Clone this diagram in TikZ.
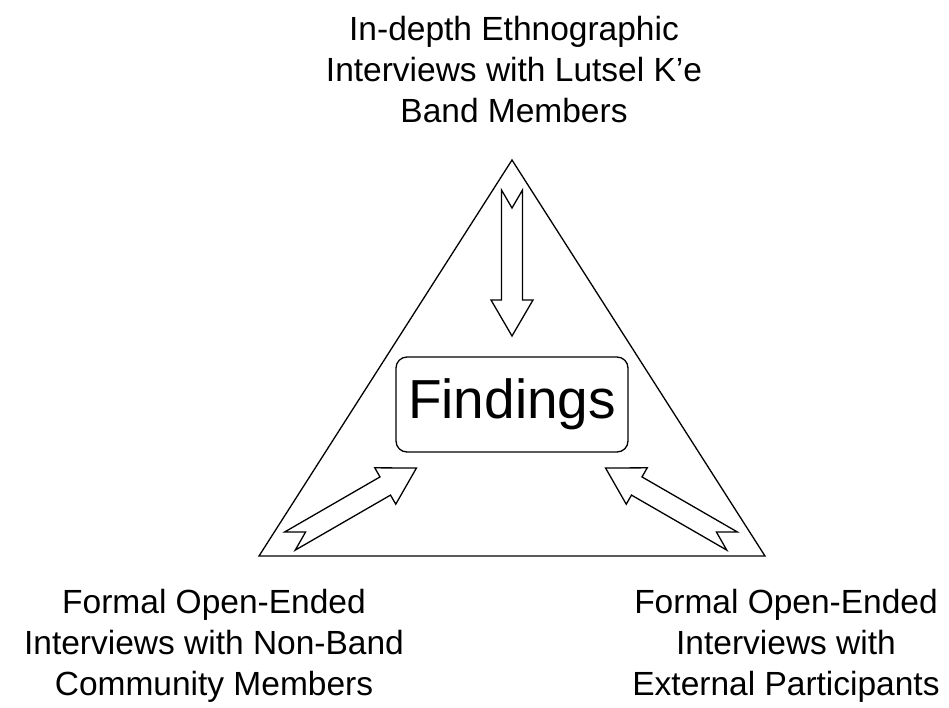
\documentclass[tikz,border=0pt]{standalone}
\usepackage{fontspec}
\setmainfont{Liberation Sans}
\begin{document}
\begin{tikzpicture}[x=1pt,y=-1pt,
  line join=miter,
  outline/.style={draw=black,line width=1.3pt},
  label/.style={align=center,font=\fontsize{33.5}{41}\selectfont,inner sep=0pt,outer sep=0pt},
  findbox/.style={outline,rounded corners=11pt,minimum width=232pt,minimum height=95pt,inner sep=0pt,font=\fontsize{55}{60}\selectfont},
  fatarrow/.pic={\draw[outline,fill=white] (0,10.5) -- (110,10.5) -- (110,21) -- (146,0) -- (110,-21) -- (110,-10.5) -- (0,-10.5) -- (18,0) -- cycle;}
]
\useasboundingbox (0,0) rectangle (949,707);
% triangle
\coordinate (apex) at (512,160);
\coordinate (bl) at (259,556);
\coordinate (br) at (765,556);
\draw[outline] (apex) -- (bl) -- (br) -- cycle;
% central box
\node[findbox] (find) at (512,404.5) {Findings};
% arrows
\pic[rotate=-90] at (512,190) {fatarrow};
\pic[rotate=30] at (290,541) {fatarrow};
\pic[rotate=150] at (732,541) {fatarrow};
% labels
\node[label,anchor=base] (top) at (514,122) {In-depth Ethnographic\\Interviews with Lutsel K'e\\Band Members};
\node[label,anchor=base] (left) at (214,695) {Formal Open-Ended\\Interviews with Non-Band\\Community Members};
\node[label,anchor=base] (right) at (786,695) {Formal Open-Ended\\Interviews with\\External Participants};
\end{tikzpicture}
\end{document}
